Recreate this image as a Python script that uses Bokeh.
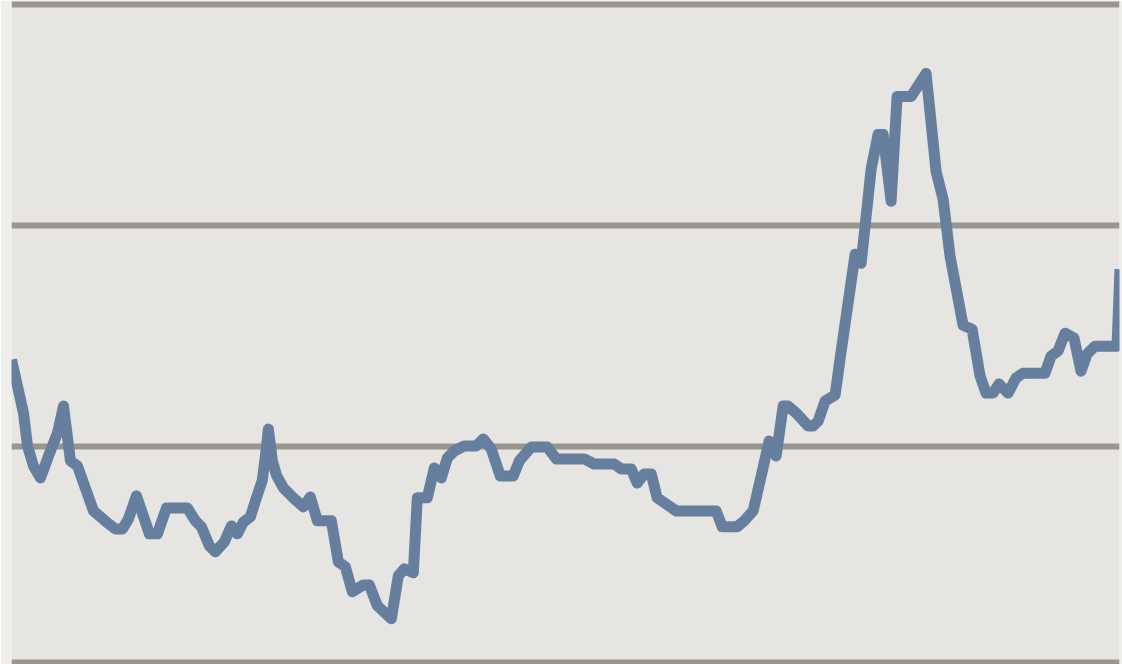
from bokeh.plotting import figure
from bokeh.models import Range1d
from bokeh.embed import file_html
from bokeh.resources import INLINE

# time index (periods from start) and series values
t = [0, 12, 16, 22, 29, 37, 46, 52, 59, 66, 82, 96, 104, 111, 117, 125, 138, 146, 155, 176,
     184, 190, 198, 204, 213, 220, 226, 232, 239, 244, 251, 254, 257, 261, 265, 272, 282, 292,
     299, 306, 320, 327, 334, 341, 352, 358, 366, 380, 387, 393, 402, 406, 416, 423, 430, 436,
     443, 453, 465, 472, 480, 489, 502, 508, 520, 536, 545, 573, 583, 603, 610, 620, 626, 633,
     640, 646, 655, 665, 705, 711, 726, 733, 742, 758, 765, 772, 777, 785, 797, 802, 807, 814,
     824, 829, 844, 850, 860, 867, 872, 880, 886, 900, 915, 925, 932, 939, 952, 961, 969, 975,
     982, 988, 997, 1005, 1012, 1034, 1040, 1047, 1054, 1063, 1070, 1076, 1084, 1106, 1109]
values = [13.95, 11.54, 10.05, 9.14, 8.60, 9.59, 10.63, 11.85, 9.37, 9.14, 7.11, 6.57, 6.29, 6.29,
          6.75, 7.79, 6.07, 6.07, 7.24, 7.24, 6.66, 6.39, 5.53, 5.26, 5.71, 6.43, 6.07, 6.61,
          6.84, 7.56, 8.51, 9.59, 10.81, 9.37, 8.73, 8.15, 7.70, 7.29, 7.74, 6.66, 6.66, 4.80,
          4.58, 3.45, 3.76, 3.76, 2.82, 2.23, 4.17, 4.49, 4.31, 7.70, 7.70, 9.05, 8.60, 9.50,
          9.82, 10.05, 10.05, 10.36, 9.91, 8.69, 8.69, 9.37, 10.00, 10.00, 9.46, 9.46, 9.23,
          9.23, 9.01, 9.01, 8.37, 8.78, 8.78, 7.70, 7.42, 7.11, 7.11, 6.39, 6.39, 6.66, 7.11,
          10.27, 9.59, 11.85, 11.85, 11.54, 10.95, 10.95, 11.17, 12.08, 12.35, 14.02, 18.72,
          18.31, 22.56, 24.14, 24.14, 21.12, 25.86, 25.86, 26.90, 22.47, 21.21, 18.63, 15.51,
          15.33, 13.21, 12.44, 12.44, 12.85, 12.44, 13.12, 13.34, 13.34, 14.11, 14.34, 15.15,
          14.93, 13.43, 14.20, 14.56, 14.56, 18.04]
grid_values = [10, 20, 30]
baseline = [0.27]

p = figure(width=1122, height=664, output_backend="svg", toolbar_location=None,
           x_axis_type=None, y_axis_type=None,
           x_range=Range1d(0, 1108.5), y_range=Range1d(0.16, 30.20),
           min_border_left=11, min_border_right=3, min_border_top=0, min_border_bottom=0)
p.background_fill_color = "#e6e5e1"
p.border_fill_color = "#efeeeb"
p.outline_line_color = None

p.hspan(y=grid_values, line_width=6, line_color="#999690")
p.hspan(y=baseline, line_width=6, line_color="#999690")
p.line(t, values, line_width=11, line_color="#667f9e", line_join="round")

open("out.html", "w").write(file_html(p, INLINE))
